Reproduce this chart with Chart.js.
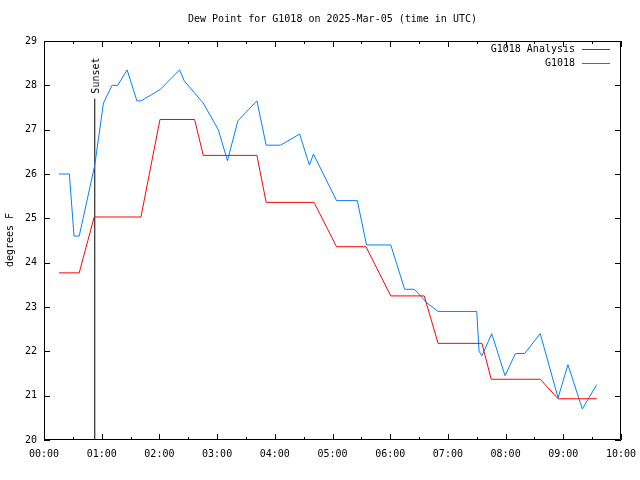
<!DOCTYPE html>
<html>
<head>
<meta charset="utf-8">
<script src="https://cdn.jsdelivr.net/npm/chart.js@4/dist/chart.umd.min.js"></script>
<style>
  body { margin: 0; background: #fff; }
  #wrap { width: 640px; height: 480px; }
</style>
</head>
<body>
<div id="wrap"><canvas id="grafico" width="640" height="480"></canvas></div>
<script>
// dados (horas UTC, graus F)
const horasAnalise = [0.26, 0.61, 0.87, 1.68, 2.01, 2.61, 2.76, 3.69, 3.85, 4.68, 5.07, 5.58, 6.01, 6.59, 6.83, 7.59, 7.75, 8.60, 8.91, 9.58];
const valoresAnalise = [23.77, 23.77, 25.03, 25.03, 27.23, 27.23, 26.42, 26.42, 25.36, 25.36, 24.36, 24.36, 23.25, 23.25, 22.18, 22.18, 21.37, 21.37, 20.93, 20.93];

const horasEstacao = [0.26, 0.44, 0.52, 0.61, 0.88, 1.03, 1.18, 1.28, 1.44, 1.61, 1.68, 2.01, 2.35, 2.43, 2.76, 3.02, 3.18, 3.36, 3.69, 3.85, 4.10, 4.43, 4.60, 4.67, 5.07, 5.43, 5.59, 6.01, 6.25, 6.42, 6.63, 6.83, 7.50, 7.54, 7.59, 7.76, 7.99, 8.17, 8.33, 8.60, 8.91, 9.08, 9.33, 9.58];
const valoresEstacao = [26.0, 26.0, 24.6, 24.6, 26.2, 27.6, 28.0, 28.0, 28.35, 27.65, 27.65, 27.9, 28.35, 28.1, 27.6, 27.0, 26.3, 27.2, 27.65, 26.65, 26.65, 26.9, 26.2, 26.45, 25.4, 25.4, 24.4, 24.4, 23.4, 23.4, 23.1, 22.9, 22.9, 22.0, 21.9, 22.4, 21.45, 21.95, 21.95, 22.4, 20.95, 21.7, 20.7, 21.25];

const horaPorDoSol = 0.88;
const topoPorDoSol = 27.7;

const xTicks = [0, 1, 2, 3, 4, 5, 6, 7, 8, 9, 10];
const yTicks = [20, 21, 22, 23, 24, 25, 26, 27, 28, 29];

const fonte = '10px "DejaVu Sans Mono", monospace';
const corAnalise = '#ff0000';
const corEstacao = '#0080ff';

function pontos(xs, ys) {
    return xs.map((x, i) => ({ x: x, y: ys[i] }));
}

// moldura, ticks internos, título e legenda no estilo gnuplot
const moldura = {
    id: 'moldura',
    afterDraw(chart) {
        const ctx = chart.ctx;
        const a = chart.chartArea;
        const sx = chart.scales.x;
        const sy = chart.scales.y;
        ctx.save();
        ctx.strokeStyle = '#000';
        ctx.lineWidth = 1;
        ctx.beginPath();
        ctx.rect(Math.round(a.left) + 0.5, Math.round(a.top) + 0.5, Math.round(a.right - a.left) - 1, Math.round(a.bottom - a.top) - 1);
        // ticks do eixo x (hora e meia hora)
        for (let h = 0; h <= 10; h += 0.5) {
            const px = Math.round(sx.getPixelForValue(h)) + 0.5;
            const len = (h % 1 === 0) ? 6 : 3;
            ctx.moveTo(px, a.bottom); ctx.lineTo(px, a.bottom - len);
            ctx.moveTo(px, a.top); ctx.lineTo(px, a.top + len);
        }
        yTicks.forEach(v => {
            const py = Math.round(sy.getPixelForValue(v)) + 0.5;
            ctx.moveTo(a.left, py); ctx.lineTo(a.left + 6, py);
            ctx.moveTo(a.right, py); ctx.lineTo(a.right - 6, py);
        });
        ctx.stroke();

        ctx.fillStyle = '#000';
        ctx.font = fonte;
        ctx.textAlign = 'center';
        ctx.textBaseline = 'middle';
        ctx.fillText('Dew Point for G1018 on 2025-Mar-05 (time in UTC)', (a.left + a.right) / 2, 19);

        ctx.save();
        ctx.translate(10, 240);
        ctx.rotate(-Math.PI / 2);
        ctx.fillText('degrees F', 0, 0);
        ctx.restore();

        // rótulo do pôr do sol
        ctx.save();
        ctx.translate(Math.round(sx.getPixelForValue(horaPorDoSol)) + 1, sy.getPixelForValue(topoPorDoSol) - 5);
        ctx.rotate(-Math.PI / 2);
        ctx.textAlign = 'left';
        ctx.fillText('Sunset', 0, 0);
        ctx.restore();

        // legenda (só as duas séries)
        [0, 1].forEach(i => {
            const d = chart.data.datasets[i];
            const y = 49 + i * 14;
            ctx.textAlign = 'right';
            ctx.fillStyle = '#000';
            ctx.fillText(d.label, 575, y);
            ctx.fillStyle = i === 0 ? corAnalise : corEstacao;
            ctx.fillRect(582, y, 28, 1);
        });
        ctx.restore();
    }
};

new Chart(document.getElementById('grafico').getContext('2d'), {
    type: 'line',
    data: {
        datasets: [
            {
                label: 'G1018 Analysis',
                data: pontos(horasAnalise, valoresAnalise),
                borderColor: corAnalise,
                borderWidth: 1,
                pointRadius: 0,
                tension: 0
            },
            {
                label: 'G1018',
                data: pontos(horasEstacao, valoresEstacao),
                borderColor: corEstacao,
                borderWidth: 1,
                pointRadius: 0,
                tension: 0
            },
            {
                label: 'Sunset',
                data: [{ x: horaPorDoSol, y: 20 }, { x: horaPorDoSol, y: topoPorDoSol }],
                borderColor: '#000000',
                borderWidth: 1,
                pointRadius: 0
            }
        ]
    },
    options: {
        responsive: false,
        animation: false,
        layout: { padding: { top: 41, right: 19, left: 0, bottom: 0 } },
        plugins: {
            legend: { display: false },
            title: { display: false },
            tooltip: { enabled: false }
        },
        scales: {
            x: {
                type: 'linear',
                min: 0,
                max: 10,
                afterFit: s => { s.height = 40; s.paddingLeft = 0; s.paddingRight = 0; },
                afterBuildTicks: s => { s.ticks = xTicks.map(v => ({ value: v })); },
                grid: { display: false, drawTicks: false },
                border: { display: false },
                ticks: {
                    padding: 8,
                    maxRotation: 0,
                    autoSkip: false,
                    color: '#000',
                    font: { family: '"DejaVu Sans Mono", monospace', size: 10 },
                    callback: v => String(v).padStart(2, '0') + ':00'
                }
            },
            y: {
                min: 20,
                max: 29,
                afterFit: s => { s.width = 44; s.paddingTop = 0; s.paddingBottom = 0; },
                afterBuildTicks: s => { s.ticks = yTicks.map(v => ({ value: v })); },
                grid: { display: false, drawTicks: false },
                border: { display: false },
                ticks: {
                    padding: 7,
                    color: '#000',
                    font: { family: '"DejaVu Sans Mono", monospace', size: 10 }
                }
            }
        }
    },
    plugins: [moldura]
});
</script>
</body>
</html>
